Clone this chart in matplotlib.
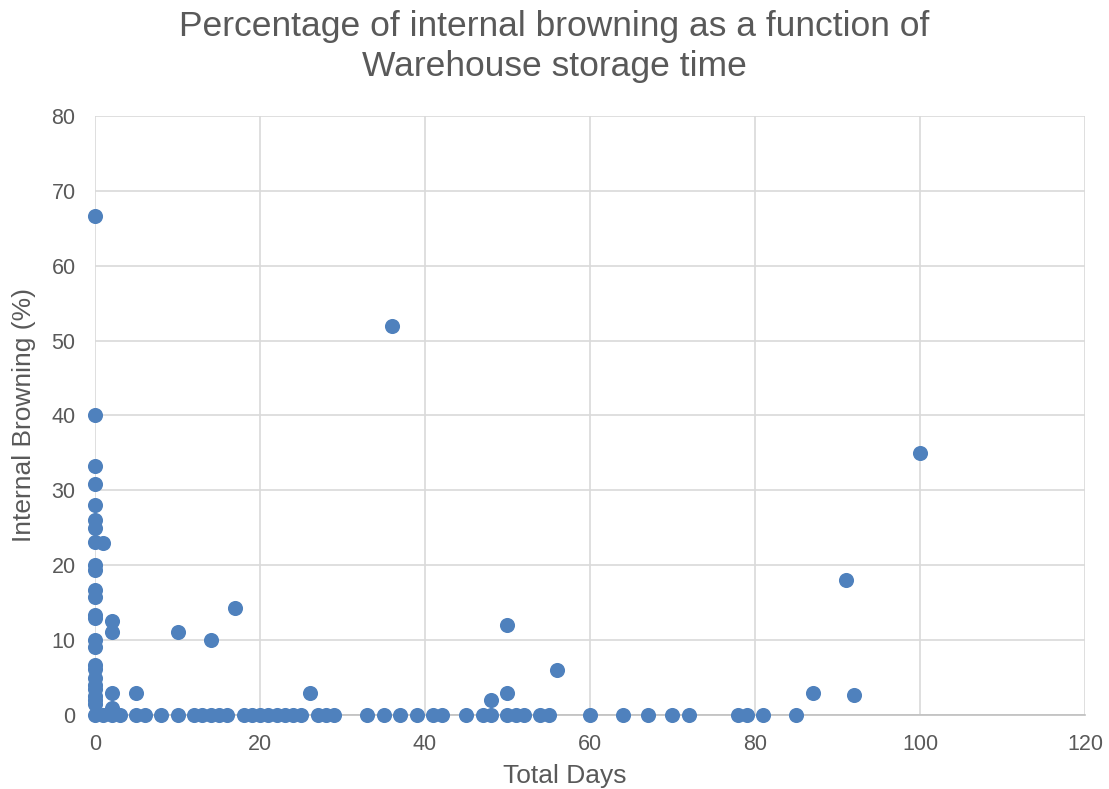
import matplotlib
matplotlib.use("Agg")
import matplotlib.pyplot as plt

plt.rcParams['font.family'] = ['Liberation Sans', 'DejaVu Sans']

# storage days and internal browning percentage per sample
days_zero_browning = [0, 1, 2, 3, 5, 6, 8, 10, 12, 13, 14, 15, 16, 18, 19, 20, 21, 22,
                      23, 24, 25, 27, 28, 29, 33, 35, 37, 39, 41, 42, 45, 47, 48, 50,
                      51, 52, 54, 55, 60, 64, 67, 70, 72, 78, 79, 81, 85]
day0_browning = [66.7, 40, 33.3, 30.8, 28.1, 26, 25, 23.1, 20, 19.4, 16.7, 15.8, 13.3,
                 12.9, 10, 9.1, 6.7, 6.2, 5, 4, 3.5, 2.6, 2, 1.5]
other_days = [1, 2, 2, 2, 2, 5, 10, 14, 17, 26, 36, 48, 50, 50, 56, 87, 91, 92, 100]
other_browning = [23, 12.5, 11.1, 3, 1, 3, 11.1, 10, 14.3, 3, 51.9, 2, 12, 3, 6, 3, 18, 2.7, 35]

total_days = days_zero_browning + [0] * len(day0_browning) + other_days
browning = [0] * len(days_zero_browning) + day0_browning + other_browning

fig = plt.figure(figsize=(11.09, 7.89), dpi=100)
ax = fig.add_axes([0.0857, 0.0938, 0.8926, 0.7592])

ax.scatter(total_days, browning, s=118, color='#4F81BD', zorder=3, linewidths=0,
           clip_on=False)

ax.set_xlim(0, 120)
ax.set_ylim(0, 80)
ax.set_xticks(range(0, 121, 20))
ax.set_yticks(range(0, 81, 10))
ax.grid(True, color='#D9D9D9', linewidth=1.2)
ax.set_axisbelow(True)
for side in ['top', 'right', 'left']:
    ax.spines[side].set_visible(False)
ax.spines['bottom'].set_color('#BFBFBF')
ax.spines['bottom'].set_linewidth(1.2)
ax.tick_params(length=0, labelsize=15.5, colors='#595959')
ax.tick_params(axis='x', pad=14)
ax.tick_params(axis='y', pad=14)
ax.set_xlabel('Total Days', fontsize=19, color='#595959', labelpad=6)
ax.xaxis.label.set_x(0.474)
ax.set_ylabel('Internal Browning (%)', fontsize=19, color='#595959', labelpad=11)

fig.suptitle('Percentage of internal browning as a function of\nWarehouse storage time',
             fontsize=25.5, color='#595959', y=0.987, linespacing=1.25)

fig.savefig('out.png', dpi=100)
